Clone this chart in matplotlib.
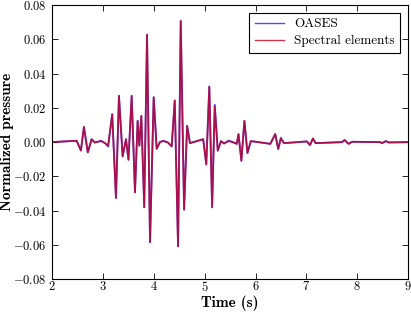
import matplotlib
matplotlib.use("Agg")
import matplotlib.pyplot as plt

# extrema (time in s, normalized pressure)
time = [2.0, 2.48, 2.565, 2.624, 2.70, 2.775, 2.84, 2.96, 3.03, 3.10,
        3.18, 3.254, 3.313, 3.385, 3.451, 3.50, 3.563, 3.628, 3.68, 3.714,
        3.753, 3.81, 3.865, 3.924, 3.996, 4.055, 4.12, 4.19, 4.28, 4.35,
        4.41, 4.475, 4.528, 4.594, 4.653, 4.71, 4.97, 5.03, 5.09, 5.145,
        5.197, 5.256, 5.32, 5.38, 5.47, 5.56, 5.63, 5.664, 5.72, 5.78,
        5.84, 5.906, 6.29, 6.386, 6.445, 6.497, 6.56, 7.01, 7.07, 7.128,
        7.18, 7.70, 7.75, 7.83, 7.90, 8.45, 8.49, 8.56, 8.62, 9.0]

spectral = [0.0, 0.0008, -0.0049, 0.0089, -0.0060, 0.0017, -0.0002, 0.0006, -0.0004, -0.0020,
            0.0163, -0.0326, 0.0270, -0.0083, 0.0017, -0.0103, 0.0270, -0.0293, 0.0124, -0.0021,
            0.0153, -0.0380, 0.0627, -0.0584, 0.0262, -0.0039, 0.0001, 0.0006, -0.0003, -0.0025,
            0.0243, -0.0608, 0.0707, -0.0394, 0.0095, -0.0006, 0.0017, -0.0130, 0.0324, -0.0379,
            0.0210, -0.0050, 0.0006, -0.0008, 0.0006, -0.0001, -0.0010, 0.0047, -0.0109, 0.0124,
            -0.0064, 0.0006, -0.0010, 0.0047, -0.0040, 0.0019, -0.0006, 0.0004, -0.0017, 0.0021,
            -0.0006, 0.0, 0.0012, -0.0010, 0.0002, 0.0, -0.0006, 0.0006, -0.0002, 0.0]

oases = [0.0, 0.0008, -0.0049, 0.0088, -0.0060, 0.0017, -0.0003, 0.0008, -0.0004, -0.0026,
         0.0163, -0.0326, 0.0270, -0.0083, 0.0017, -0.0103, 0.0270, -0.0293, 0.0124, -0.0021,
         0.0153, -0.0380, 0.0627, -0.0584, 0.0262, -0.0039, 0.0001, 0.0008, -0.0003, -0.0025,
         0.0243, -0.0608, 0.0707, -0.0394, 0.0095, -0.0006, 0.0017, -0.0130, 0.0324, -0.0381,
         0.0218, -0.0050, 0.0006, -0.0008, 0.0009, -0.0001, -0.0010, 0.0047, -0.0109, 0.0124,
         -0.0064, 0.0006, -0.0010, 0.0047, -0.0040, 0.0026, -0.0006, 0.0004, -0.0017, 0.0021,
         -0.0006, 0.0, 0.0012, -0.0010, 0.0002, 0.0, -0.0006, 0.0006, -0.0002, 0.0]

plt.rcParams["font.family"] = "cmr10"
plt.rcParams["mathtext.fontset"] = "cm"
plt.rcParams["axes.formatter.use_mathtext"] = True
plt.rcParams["xtick.direction"] = "in"
plt.rcParams["ytick.direction"] = "in"
plt.rcParams["xtick.top"] = True
plt.rcParams["ytick.right"] = True

fig = plt.figure(figsize=(4.11, 3.12), dpi=100)
ax = fig.add_axes([0.127, 0.105, 0.866, 0.879])

ax.plot(time, oases, color="blue", alpha=0.7, lw=1.3, label="OASES")
ax.plot(time, spectral, color="#c00020", alpha=0.8, lw=1.3, label="Spectral elements")

ax.set_xlim(2, 9)
ax.set_ylim(-0.08, 0.08)
ax.set_xticks(range(2, 10))
ax.set_yticks([-0.08, -0.06, -0.04, -0.02, 0.0, 0.02, 0.04, 0.06, 0.08])
ax.tick_params(labelsize=9, length=4, width=0.6)
ax.tick_params(axis="x", pad=0.5)
ax.tick_params(axis="y", pad=4)
for sp in ax.spines.values():
    sp.set_linewidth(0.8)

ax.set_xlabel("Time (s)", family="cmb10", fontsize=11)
ax.set_ylabel("Normalized pressure", family="cmb10", fontsize=11)
ax.xaxis.set_label_coords(0.5, -0.06)
ax.yaxis.set_label_coords(-0.108, 0.5)

leg = ax.legend(loc="upper right", fontsize=9.5, fancybox=False, framealpha=1,
                edgecolor="black", borderaxespad=0.6, handlelength=2.2,
                labelspacing=0.35)
leg.get_frame().set_linewidth(0.8)
for line in leg.get_lines():
    line.set_linewidth(1.0)

fig.savefig("out.png", dpi=100)
